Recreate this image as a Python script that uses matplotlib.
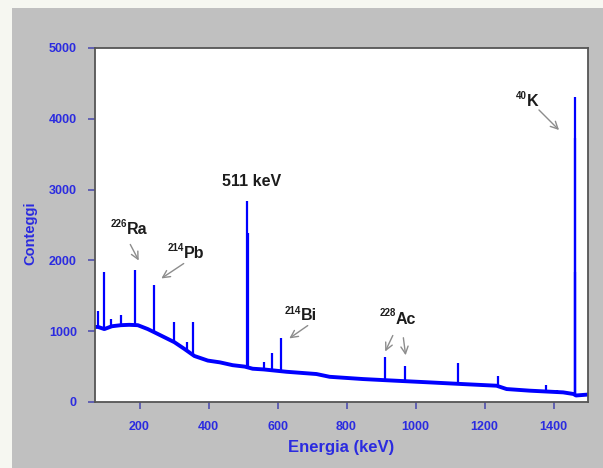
import numpy as np
import matplotlib
matplotlib.use("Agg")
import matplotlib.pyplot as plt
from matplotlib.patches import Rectangle

# ---------------- data ----------------
cont_energy = [71, 80, 98, 120, 146, 170, 195, 224, 243, 272, 301, 330, 359,
               398, 433, 470, 505, 528, 560, 626, 713, 751, 848, 945, 1041,
               1138, 1235, 1264, 1331, 1428, 1458, 1465, 1500]
cont_counts = [1060, 1060, 1030, 1070, 1085, 1090, 1085, 1030, 985, 915, 845,
               750, 650, 585, 560, 520, 500, 470, 460, 427, 395, 356, 324, 300,
               277, 253, 230, 183, 160, 136, 113, 92, 105]

peak_energy = [79, 96, 116, 146, 188, 241, 299, 337, 355, 513, 514, 561,
               585, 611, 913, 971, 1122, 1239, 1378, 1409, 1461, 1462, 1463]
peak_counts = [1285, 1830, 1170, 1230, 1870, 1650, 1125, 845, 1125, 2835,
               2390, 560, 690, 900, 640, 505, 550, 370, 245, 170, 3730, 4310, 1830]

x_ticks = [200, 400, 600, 800, 1000, 1200, 1400]
y_ticks = [0, 1000, 2000, 3000, 4000, 5000]

# ---------------- figure ----------------
W, H = 603, 468
fig = plt.figure(figsize=(W / 100, H / 100), dpi=100)
fig.patch.set_facecolor("#f6f7f1")
fig.patches.append(Rectangle((12 / W, 0), 1, 1 - 8 / H, transform=fig.transFigure,
                             facecolor="#c0c0c0", edgecolor="none", zorder=-10))

def fp(x, y):
    return (x / W, 1 - y / H)

ax = fig.add_axes([95 / W, 1 - 402 / H, (588 - 95) / W, (402 - 48) / H])
ax.set_facecolor("white")

blue = "#0000ff"
lab_blue = "#2b2be0"
ax.plot(cont_energy, cont_counts, color=blue, lw=2.8, solid_joinstyle="round")
bases = np.interp(peak_energy, cont_energy, cont_counts)
ax.vlines(peak_energy, bases, peak_counts, color=blue, lw=1.6)

ax.set_xlim(71, 1500)
ax.set_ylim(0, 5000)
ax.set_xticks(x_ticks)
ax.set_yticks(y_ticks)

font = "Liberation Sans"
for s in ax.spines.values():
    s.set_color("#555555")
    s.set_linewidth(1.3)
ax.tick_params(direction="out", length=5, width=1.2, color="#5050b0",
               labelcolor=lab_blue, labelsize=9)
for lbl in ax.get_xticklabels() + ax.get_yticklabels():
    lbl.set_fontfamily(font)
    lbl.set_fontweight("bold")
ax.tick_params(axis="x", pad=9)
ax.tick_params(axis="y", pad=8)

ax.set_xlabel("Energia (keV)", fontsize=12, fontweight="bold", color=lab_blue,
              family=font, labelpad=5)
ax.set_ylabel("Conteggi", fontsize=10.5, fontweight="bold", color=lab_blue,
              family=font)
ax.yaxis.set_label_coords((37 - 95) / 493, 1 - (233 - 48) / 354)

# ---------------- annotations ----------------
tc = "#1c1c1c"
big = dict(fontsize=11.5, fontweight="bold", color=tc, family=font, va="center")
small = dict(fontsize=7, fontweight="bold", color=tc, family=font, va="center")

fig.text(*fp(252, 182), "511 keV", ha="center", **big)

def iso(xs, ys, xb, yb, num, sym):
    fig.text(*fp(xs, ys), num, ha="right", **small)
    fig.text(*fp(xb, yb), sym, ha="left", **big)

iso(127, 224, 127, 229, "226", "Ra")
iso(184, 248, 184, 253, "214", "Pb")
iso(301, 311, 301, 315, "214", "Bi")
iso(396, 313, 396, 320, "228", "Ac")
iso(527, 96, 527, 102, "40", "K")

arr = dict(arrowstyle="->", color="#8c8c8c", lw=1.0, mutation_scale=13)
arrows = [((129, 242), (140, 263)),
          ((186, 262), (159, 280)),
          ((310, 324), (287, 340)),
          ((394, 333), (384, 354)),
          ((403, 335), (406, 358)),
          ((537, 108), (561, 132))]
for tail, head in arrows:
    ax.annotate("", xy=fp(*head), xytext=fp(*tail), xycoords="figure fraction",
                textcoords="figure fraction", arrowprops=arr)

fig.savefig("out.png", dpi=100, facecolor=fig.get_facecolor())
